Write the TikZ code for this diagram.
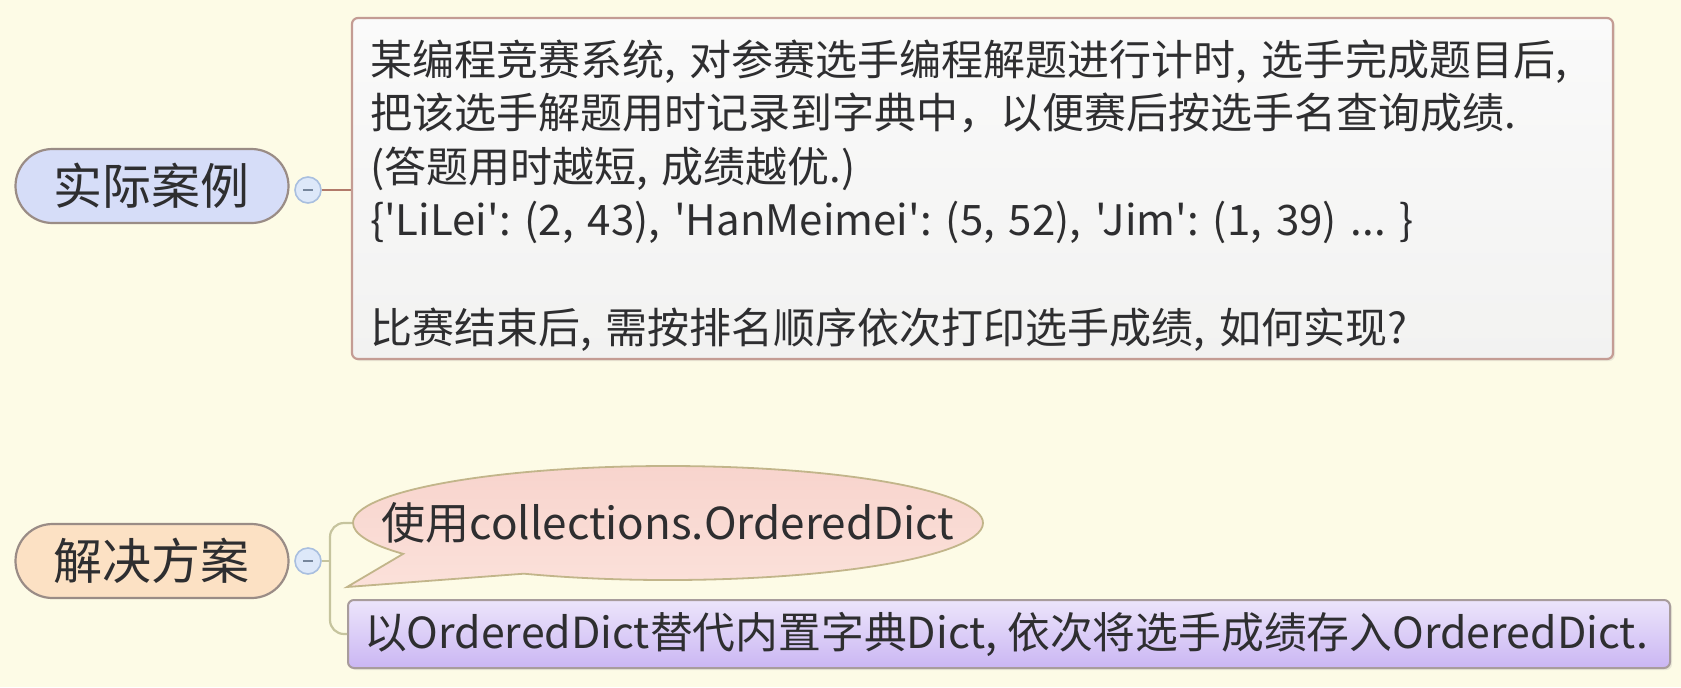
\documentclass[tikz,border=0pt]{standalone}
\usepackage{fontspec}
\newfontfamily\mapfont{Noto Sans CJK SC}
\usetikzlibrary{positioning,shapes.misc,shapes.callouts,shadows}

\definecolor{paper}{HTML}{FDFBE6}
\definecolor{ink}{HTML}{2E2E30}
\definecolor{topicblue}{HTML}{D6DDF8}
\definecolor{topicpeach}{HTML}{FCE1C4}
\definecolor{topicline}{HTML}{9A8C86}
\definecolor{knobfill}{HTML}{DDE8F9}
\definecolor{knobline}{HTML}{A9BFDF}
\definecolor{caseline}{HTML}{B27A6A}
\definecolor{noteline}{HTML}{C49C94}
\definecolor{notetop}{HTML}{FAFAFA}
\definecolor{notefill}{HTML}{F2F2F1}
\definecolor{solveline}{HTML}{C6C49E}
\definecolor{bubbletop}{HTML}{F8D4CD}
\definecolor{bubblebot}{HTML}{FBE1DA}
\definecolor{bubbleline}{HTML}{C2B58A}
\definecolor{purptop}{HTML}{ECE5FB}
\definecolor{purpbot}{HTML}{CAB6F3}
\definecolor{purpline}{HTML}{A89C9C}

\tikzset{
  topic/.style={rounded rectangle, draw=topicline, line width=1.1pt,
    minimum width=136.5pt, minimum height=37pt, inner sep=0pt,
    font=\mapfont\frenchspacing\fontsize{24.5}{28}\selectfont, text=ink},
  knob/.style={circle, draw=knobline, fill=knobfill, line width=0.8pt,
    minimum size=13pt, inner sep=0pt,
    path picture={\draw[knobline!70!black, line width=0.7pt]
      ([xshift=-2.6pt]path picture bounding box.center) --
      ([xshift=2.6pt]path picture bounding box.center);}},
  notebox/.style={rectangle, rounded corners=3pt, draw=noteline, line width=1.1pt,
    top color=notetop, bottom color=notefill,
    drop shadow={shadow xshift=1pt, shadow yshift=-1pt, opacity=0.15},
    text width=612.5pt, minimum height=170.5pt, inner xsep=9pt, inner ysep=0pt,
    align=left, font=\mapfont\frenchspacing\fontsize{21}{26.8}\selectfont, text=ink},
  bubble/.style={ellipse callout, draw=bubbleline, line width=0.9pt,
    top color=bubbletop, bottom color=bubblebot,
    minimum width=315pt, minimum height=57pt, inner sep=0pt,
    callout pointer arc=30,
    font=\mapfont\frenchspacing\fontsize{22}{26}\selectfont, text=ink},
  answer/.style={rectangle, rounded corners=3pt, draw=purpline, line width=1pt,
    top color=purptop, bottom color=purpbot,
    drop shadow={shadow xshift=1pt, shadow yshift=-1pt, opacity=0.15},
    minimum height=34pt, inner xsep=8pt, inner ysep=0pt,
    font=\mapfont\frenchspacing\fontsize{21.4}{26}\selectfont, text=ink},
  caselink/.style={draw=caseline, line width=1.1pt},
  solvelink/.style={draw=solveline, line width=1.1pt, rounded corners=7pt}
}

\begin{document}
\begin{tikzpicture}[x=0.5pt,y=-0.5pt]
\fill[paper] (0,0) rectangle (1681,687);
\useasboundingbox (0,0) rectangle (1681,687);

% first topic
\node[topic, fill=topicblue] (case) at (152,186) {实际案例};
\node[knob] (caseknob) at (308,190) {};
\node[notebox] (casenote) at (982.5,188.5) {\rule{0pt}{24.5pt}某编程竞赛系统, 对参赛选手编程解题进行计时, 选手完成题目后,\\
把该选手解题用时记录到字典中，以便赛后按选手名查询成绩.\\
(答题用时越短, 成绩越优.)\\
\{'LiLei': (2, 43), 'HanMeimei': (5, 52), 'Jim': (1, 39) ... \}\\[26.8pt]
比赛结束后, 需按排名顺序依次打印选手成绩, 如何实现?};
\draw[caselink] (caseknob.east) -- (caseknob.east -| casenote.west);

% second topic
\node[topic, fill=topicpeach] (solve) at (152,561) {解决方案};
\node[knob] (solveknob) at (308,561) {};
\coordinate (fork) at (330,561);
\node[bubble, callout absolute pointer={(347,587)}] (usedict) at (668,523)
  {\makebox[0pt]{使用collections.OrderedDict}};
\node[answer] (replace) at (1009,634)
  {\makebox[645pt][l]{以OrderedDict替代内置字典Dict, 依次将选手成绩存入OrderedDict.}};
\draw[solvelink] (solveknob.east) -- (fork);
\draw[solvelink] (usedict.west) -| (fork) |- (replace.west);
\end{tikzpicture}
\end{document}
